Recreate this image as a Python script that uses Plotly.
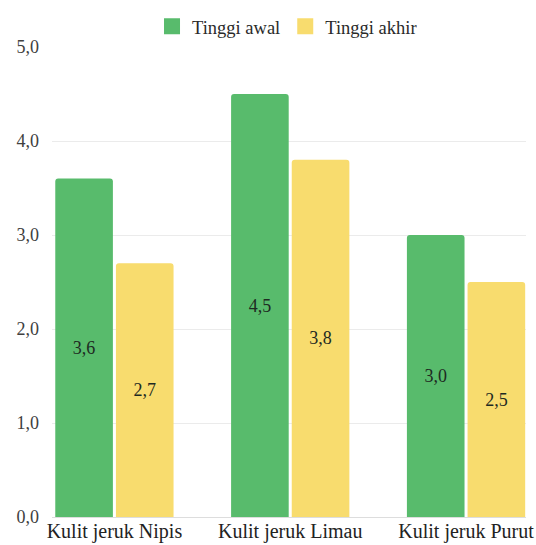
import plotly.graph_objects as go

categories = ["Kulit jeruk Nipis", "Kulit jeruk Limau", "Kulit jeruk Purut"]
tinggi_awal = [3.6, 4.5, 3.0]
tinggi_akhir = [2.7, 3.8, 2.5]
series_names = ["Tinggi awal", "Tinggi akhir"]
colors = ["#58BB6C", "#F8DC6E"]
y_ticks = [0, 1, 2, 3, 4, 5]

FONT = "'Liberation Serif', 'DejaVu Serif', serif"

def fmt(v):
    return f"{v:.1f}".replace(".", ",")

fig = go.Figure()
for name, vals, col in zip(series_names, [tinggi_awal, tinggi_akhir], colors):
    fig.add_trace(go.Bar(
        x=categories, y=vals, name=name,
        marker=dict(color=col, cornerradius=3, line=dict(width=0)),
        text=[fmt(v) for v in vals],
        textposition="inside", insidetextanchor="middle",
        textfont=dict(family=FONT, size=18, color="#1E2A22"),
        textangle=0,
        showlegend=False,
    ))
# legend entries with larger square swatches
for name, col in zip(series_names, colors):
    fig.add_trace(go.Scatter(
        x=[None], y=[None], mode="markers", name=name,
        marker=dict(symbol="square", size=20, color=col),
        showlegend=True,
    ))

fig.update_layout(
    width=536, height=545,
    margin=dict(l=52, r=10, t=47, b=28, autoexpand=False),
    paper_bgcolor="white", plot_bgcolor="white",
    barmode="group", bargap=0.31, bargroupgap=0.05,
    font=dict(family=FONT, size=18, color="#333333"),
    separators=",.",
    legend=dict(orientation="h", x=0.211, xanchor="left", y=1.043, yanchor="middle",
                font=dict(family=FONT, size=18.5, color="#2A2A2A"),
                itemwidth=30, tracegroupgap=0, bgcolor="rgba(0,0,0,0)"),
    xaxis=dict(range=[-0.355, 2.341], showgrid=False, zeroline=False, showline=False,
               ticks="", tickfont=dict(family=FONT, size=20, color="#222222"),
               automargin=False),
    yaxis=dict(range=[0, 5], tickvals=y_ticks, tickformat=".1f",
               showgrid=True, gridcolor="#EBEBEB", gridwidth=1,
               zeroline=True, zerolinecolor="#DDDDDD", zerolinewidth=1,
               showline=False, ticks="", ticklabelstandoff=12,
               tickfont=dict(family=FONT, size=18, color="#404040"),
               automargin=False),
)

fig.write_html("out.html", config={"displayModeBar": False},
               post_script="document.body.style.margin='0';document.body.style.padding='0';")
